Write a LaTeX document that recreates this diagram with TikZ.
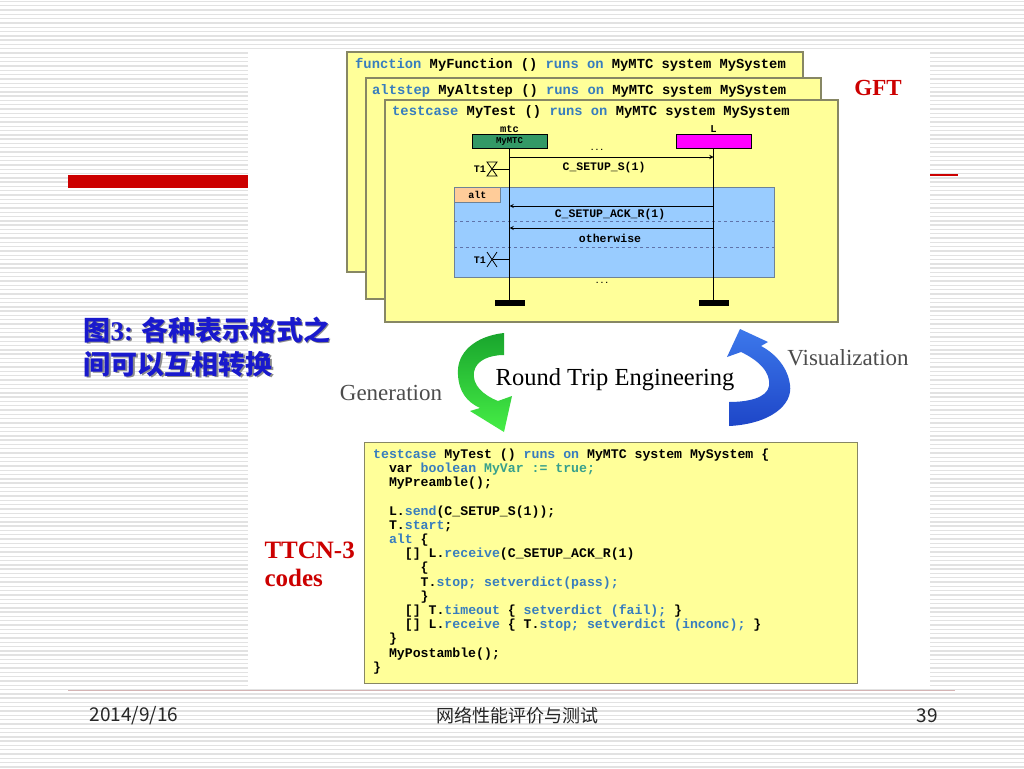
\documentclass[tikz,border=0pt]{standalone}
\usepackage{fontspec}
\setmainfont{Liberation Serif}
\newfontfamily\codefont{Liberation Mono}
\newfontfamily\cjkfont{Noto Sans CJK SC}
\usetikzlibrary{positioning}

\definecolor{stripe}{RGB}{226,226,226}
\definecolor{slidered}{RGB}{204,0,0}
\definecolor{footline}{RGB}{212,180,180}
\definecolor{boxyellow}{RGB}{255,255,153}
\definecolor{boxedge}{RGB}{135,135,100}
\definecolor{kwblue}{RGB}{55,125,190}
\definecolor{vargreen}{RGB}{55,160,140}
\definecolor{altblue}{RGB}{153,204,255}
\definecolor{altedge}{RGB}{110,130,150}
\definecolor{dashblue}{RGB}{95,115,170}
\definecolor{tabpeach}{RGB}{255,204,153}
\definecolor{mtcgreen}{RGB}{51,153,102}
\definecolor{lpink}{RGB}{255,0,255}
\definecolor{titleblue}{RGB}{25,25,205}

\newcommand{\kw}[1]{\textcolor{kwblue}{#1}}
\newcommand{\vr}[1]{\textcolor{vargreen}{#1}}
\newcommand{\indt}{\phantom{xx}}

\tikzset{
  gftbox/.style={draw=boxedge, fill=boxyellow, line width=1.3pt},
  hdr/.style={anchor=west, inner sep=0pt, font=\codefont\bfseries\fontsize{13.8}{14}\selectfont},
  seqlbl/.style={inner sep=0pt, font=\codefont\bfseries\fontsize{11.5}{12}\selectfont},
  headbox/.style={draw, line width=0.8pt, minimum width=75pt, minimum height=14pt, inner sep=0pt,
    font=\codefont\bfseries\fontsize{9}{9}\selectfont},
  endbar/.style={fill=black, minimum width=30pt, minimum height=6pt, inner sep=0pt},
  life/.style={line width=1.3pt},
  msg/.style={->, >=stealth, line width=0.9pt},
  foot/.style={font=\cjkfont\fontsize{19}{19}\selectfont, text=black!85},
}

\begin{document}
\begin{tikzpicture}[x=1pt, y=-1pt]
    \useasboundingbox (0,0) rectangle (1024,768);
    % slide background
    \fill[white] (0,0) rectangle (1024,768);
    \foreach \y in {1.5,5.8,...,768}
        \draw[stripe, line width=1.4pt] (0,\y) -- (1024,\y);
    \fill[slidered] (68,175) rectangle (248,188);
    \draw[slidered, line width=1.5pt] (930,175) -- (958,175);
    \fill[white] (248,50) rectangle (930,688);

    % footer
    \draw[footline, line width=0.8pt] (68,690) -- (955,690);
    \node[foot] (date) at (134,716) {2014/9/16};
    \node[foot, font=\cjkfont\fontsize{18}{18}\selectfont] (course) at (517,716) {网络性能评价与测试};
    \node[foot] (page) at (927,716) {39};

    % GFT stack
    \draw[gftbox] (347,52) rectangle (803,272);
    \node[hdr] (fnhdr) at (355,65) {\kw{function} MyFunction () \kw{runs on} MyMTC system MySystem};
    \draw[gftbox] (366,78) rectangle (821,299);
    \node[hdr] (ashdr) at (372,91) {\kw{altstep} MyAltstep () \kw{runs on} MyMTC system MySystem};
    \draw[gftbox] (385,100) rectangle (838,322);
    \node[hdr] (tchdr) at (392,112) {\kw{testcase} MyTest () \kw{runs on} MyMTC system MySystem};

    \draw[draw=altedge, fill=altblue, line width=1pt] (454,187) rectangle (774,277);
    \node[draw=altedge, fill=tabpeach, line width=0.8pt, minimum width=46pt, minimum height=15pt, inner sep=0pt,
        anchor=north west, font=\codefont\bfseries\fontsize{10}{10}\selectfont] (alttab) at (454,187) {alt};
    \draw[dashblue, dashed, line width=0.7pt] (454,221) -- (774,221);
    \draw[dashblue, dashed, line width=0.7pt] (454,247) -- (774,247);

    \node[headbox, fill=mtcgreen] (mtc) at (509.5,141) {MyMTC};
    \node[headbox, fill=lpink] (L) at (713.5,141) {};
    \node[seqlbl, font=\codefont\bfseries\fontsize{10.5}{10}\selectfont] (mtclbl) at (509.5,129) {mtc};
    \node[seqlbl, font=\codefont\bfseries\fontsize{10.5}{10}\selectfont] (Llbl) at (713.5,129) {L};
    \node[endbar] (mtcend) at (509.5,303) {};
    \node[endbar] (Lend) at (713.5,303) {};
    \draw[life] (mtc) -- (mtcend);
    \draw[life] (L) -- (Lend);

    \node[seqlbl, font=\codefont\bfseries\fontsize{8}{8}\selectfont] (dotsa) at (597,150) {...};
    \draw[msg] (mtc.south |- 0,157) -- (L.south |- 0,157);
    \node[seqlbl] (setup) at (604,168) {C\_SETUP\_S(1)};
    \draw[msg] (L.south |- 0,206) -- (mtc.south |- 0,206);
    \node[seqlbl] (setupack) at (610,215) {C\_SETUP\_ACK\_R(1)};
    \draw[msg] (L.south |- 0,228) -- (mtc.south |- 0,228);
    \node[seqlbl] (other) at (610,238) {otherwise};
    \node[seqlbl, font=\codefont\bfseries\fontsize{8}{8}\selectfont] (dotsb) at (602,283) {...};

    % timer start and timeout
    \node[seqlbl, anchor=east, font=\codefont\bfseries\fontsize{10}{10}\selectfont] (tstart) at (486,169) {T1};
    \draw[line width=0.8pt] (487,162) -- (497,162) -- (487,176) -- (497,176) -- cycle;
    \coordinate (tsend) at (492,169);
    \draw[line width=0.8pt] (tsend) -- (mtc.south |- tsend);
    \node[seqlbl, anchor=east, font=\codefont\bfseries\fontsize{10}{10}\selectfont] (tout) at (486,260) {T1};
    \draw[line width=0.8pt] (487,252) -- (497,267) (487,267) -- (497,252);
    \coordinate (toend) at (493,259);
    \draw[line width=0.8pt] (toend) -- (mtc.south |- toend);

    \node[font=\bfseries\fontsize{23}{23}\selectfont, text=slidered] (gft) at (878,88) {GFT};

    % caption
    \node[anchor=north west, align=left, text=black!45, font=\cjkfont\bfseries\fontsize{27}{34}\selectfont]
        (figshadow) at (81.5,314.5) {图{\rmfamily\bfseries 3:} 各种表示格式之\\间可以互相转换};
    \node[anchor=north west, align=left, text=titleblue, font=\cjkfont\bfseries\fontsize{27}{34}\selectfont]
        (fig) at (80,313) {图{\rmfamily\bfseries 3:} 各种表示格式之\\间可以互相转换};

    % round trip arrows
    \shade[top color={rgb,255:red,25;green,165;blue,45}, bottom color={rgb,255:red,70;green,238;blue,70}]
        (504,333) .. controls (476,336) and (456,352) .. (458,375) .. controls (459,392) and (467,402) .. (480,408)
        -- (470,411) -- (504,432) -- (512,396) -- (498,401) .. controls (483,395) and (472,385) .. (474,372)
        .. controls (476,360) and (490,355) .. (504,355) -- cycle;
    \shade[top color={rgb,255:red,60;green,120;blue,235}, bottom color={rgb,255:red,30;green,70;blue,200}]
        (729,426) .. controls (770,424) and (793,405) .. (790,385) .. controls (788,368) and (776,354) .. (761,346)
        -- (768,342) -- (740,329) -- (727,357) -- (741,352) .. controls (758,360) and (771,372) .. (769,386)
        .. controls (767,398) and (748,402) .. (729,402) -- cycle;
    \node[font=\fontsize{23}{23}\selectfont, text=black!70] (gen) at (391,393) {Generation};
    \node[font=\fontsize{24.5}{25}\selectfont] (rte) at (615,380) {Round Trip Engineering};
    \node[font=\fontsize{23}{23}\selectfont, text=black!70] (vis) at (848,358) {Visualization};

    % TTCN-3 code
    \node[draw=boxedge, fill=boxyellow, line width=1.3pt, minimum width=493pt, minimum height=241pt,
        inner sep=0pt, anchor=north west] (codebox) at (364,442) {};
    \node[anchor=north west, align=left, inner sep=0pt, font=\codefont\bfseries\fontsize{13.2}{14.2}\selectfont]
        (code) at (373,448.5) {\kw{testcase} MyTest () \kw{runs on} MyMTC system MySystem \{\\
        \indt var \kw{boolean} \vr{MyVar := true;}\\
        \indt MyPreamble();\\[14.2pt]
        \indt L.\kw{send}(C\_SETUP\_S(1));\\
        \indt T.\kw{start};\\
        \indt \kw{alt} \{\\
        \indt\indt [] L.\kw{receive}(C\_SETUP\_ACK\_R(1)\\
        \indt\indt\indt \{\\
        \indt\indt\indt T.\kw{stop; setverdict(pass);}\\
        \indt\indt\indt \}\\
        \indt\indt [] T.\kw{timeout} \{ \kw{setverdict (fail);} \}\\
        \indt\indt [] L.\kw{receive} \{ T.\kw{stop; setverdict (inconc);} \}\\
        \indt \}\\
        \indt MyPostamble();\\
        \}};
    \node[anchor=north west, align=left, text=slidered, font=\bfseries\fontsize{25}{28}\selectfont]
        (ttcn) at (261,538) {TTCN-3\\codes};
\end{tikzpicture}
\end{document}
